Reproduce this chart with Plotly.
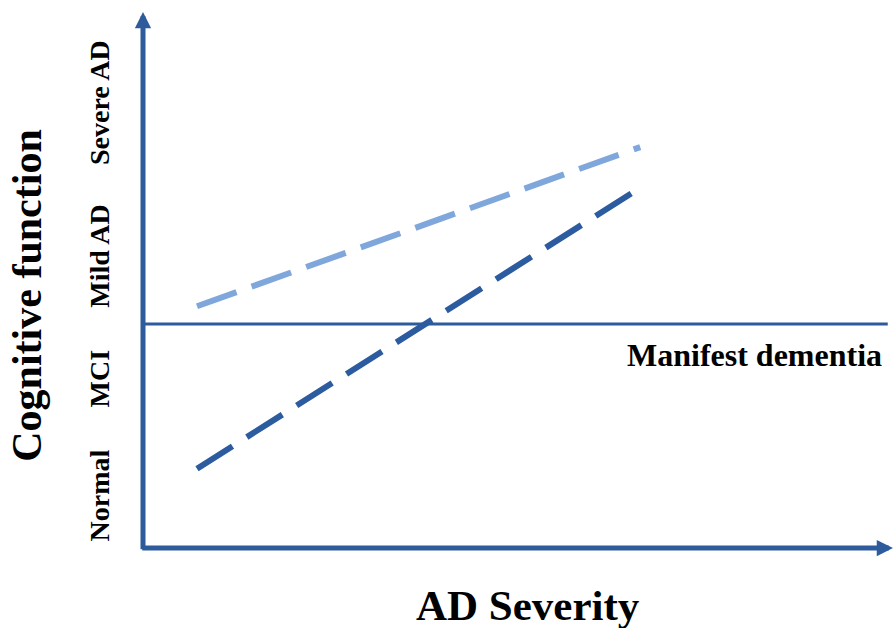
import plotly.graph_objects as go

# Data (axis units 0-100)
line_x = [7.2, 66.3]
light_y = [45.1, 74.8]
dark_y = [14.8, 67.2]
dementia_x = [0, 99.3]
dementia_y = [41.8, 41.8]
tick_vals = [9.0, 30.8, 53.7, 82.3]
tick_text = ["Normal", "MCI", "Mild AD", "Severe AD"]
x_title = "AD Severity"
y_title = "Cognitive function"
dementia_label = "Manifest dementia"

AXIS_C = "#2E5B9C"
DARK_C = "#2C5C9F"
LIGHT_C = "#7FA7DB"
FONT = "Liberation Serif"

fig = go.Figure()
fig.add_trace(go.Scatter(x=dementia_x, y=dementia_y, mode="lines",
                         line=dict(color=AXIS_C, width=3), showlegend=False, hoverinfo="skip"))
fig.add_trace(go.Scatter(x=line_x, y=light_y, mode="lines",
                         line=dict(color=LIGHT_C, width=6, dash="42px,16px"), showlegend=False))
fig.add_trace(go.Scatter(x=line_x, y=dark_y, mode="lines",
                         line=dict(color=DARK_C, width=6, dash="42px,17px"), showlegend=False))

# axis arrows
fig.add_annotation(x=0, y=100, ax=0, ay=-0.5, xref="x", yref="y", axref="x", ayref="y",
                   showarrow=True, arrowhead=2, arrowsize=0.65, arrowwidth=5, arrowcolor=AXIS_C, text="")
fig.add_annotation(x=100, y=0, ax=-0.3, ay=0, xref="x", yref="y", axref="x", ayref="y",
                   showarrow=True, arrowhead=2, arrowsize=0.65, arrowwidth=5, arrowcolor=AXIS_C, text="")

fig.add_annotation(x=81.5, y=36.0, xref="x", yref="y", text=dementia_label, showarrow=False,
                   font=dict(family=FONT, size=32, color="black", weight="bold"))

# axis titles
fig.add_annotation(x=-0.155, y=0.472, xref="paper", yref="paper", text=y_title, showarrow=False,
                   textangle=-90, xanchor="center", yanchor="middle",
                   font=dict(family=FONT, size=42, color="black", weight="bold"))
fig.add_annotation(x=0.513, y=-0.108, xref="paper", yref="paper", text=x_title, showarrow=False,
                   xanchor="center", yanchor="middle",
                   font=dict(family=FONT, size=43, color="black", weight="bold"))

fig.update_layout(
    width=895, height=628,
    margin=dict(l=143, r=2, t=12, b=80),
    paper_bgcolor="white", plot_bgcolor="white",
    font=dict(family=FONT, color="black"),
)
fig.update_xaxes(range=[0, 100], showgrid=False, zeroline=False, showticklabels=False,
                 showline=False, fixedrange=True, automargin=False)
fig.update_yaxes(range=[0, 100], showgrid=False, zeroline=False, showline=False, automargin=False,
                 fixedrange=True, tickmode="array", tickvals=tick_vals, ticktext=tick_text,
                 tickangle=-90, ticks="", ticklabelstandoff=27,
                 tickfont=dict(family=FONT, size=28, weight="bold", color="black"))

fig.write_html("out.html", config={"displayModeBar": False},
               post_script="document.body.style.margin='0';")
